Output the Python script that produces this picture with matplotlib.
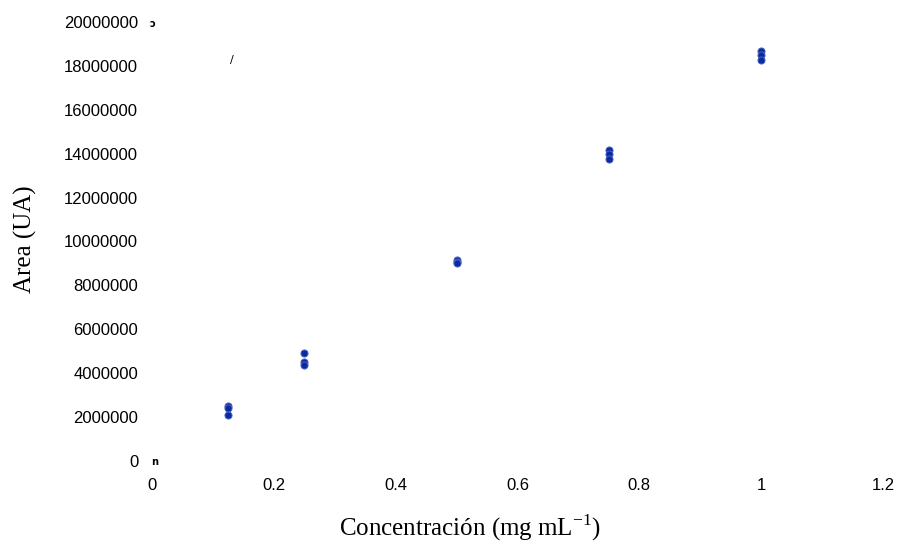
import matplotlib
matplotlib.use("Agg")
import matplotlib.pyplot as plt

# datos de calibración (concentración vs área)
conc = [0.125, 0.125, 0.125,
        0.25, 0.25, 0.25,
        0.5, 0.5, 0.5,
        0.75, 0.75, 0.75,
        1.0, 1.0, 1.0]
area = [2500000, 2430000, 2100000,
        4920000, 4520000, 4380000,
        9160000, 9080000, 9020000,
        14170000, 13990000, 13760000,
        18680000, 18500000, 18270000]

xticks = [0, 0.2, 0.4, 0.6, 0.8, 1, 1.2]
xticklabels = ["0", "0.2", "0.4", "0.6", "0.8", "1", "1.2"]
yticks = list(range(0, 20000001, 2000000))

plt.rcParams["mathtext.fontset"] = "custom"
plt.rcParams["mathtext.rm"] = "Liberation Serif"

fig = plt.figure(figsize=(9, 5.44), dpi=100)
ax = fig.add_axes([0.169, 0.1526, 0.812, 0.807])

ax.scatter(conc, area, s=26, color="#0b2a9c", edgecolors="#4a62c8", linewidths=0.7, zorder=3)

ax.set_xlim(0, 1.2)
ax.set_ylim(0, 20000000)
ax.set_xticks(xticks)
ax.set_xticklabels(xticklabels, fontfamily="Liberation Sans", fontsize=12)
ax.set_yticks(yticks)
ax.set_yticklabels([str(v) for v in yticks], fontfamily="Liberation Sans", fontsize=12)
ax.tick_params(axis="both", length=0)
ax.tick_params(axis="y", pad=10)
ax.tick_params(axis="x", pad=12)
for s in ax.spines.values():
    s.set_visible(False)

# etiquetas de ejes (Times)
fig.text(470 / 900, 1 - 528 / 544, r"Concentración (mg mL$^{\mathregular{-1}}$)",
         fontfamily="Liberation Serif", fontsize=18, ha="center", va="center")
fig.text(25 / 900, 1 - 239 / 544, "Area (UA)", fontfamily="Liberation Serif",
         fontsize=18, rotation=90, ha="center", va="center")

# restos de marcas pequeñas que aparecen en el original
fig.text(152 / 900, 1 - 24 / 544, "ɔ", fontsize=7, fontweight="bold", ha="center", va="center")
fig.text(232 / 900, 1 - 60 / 544, "/", fontsize=8, ha="center", va="center")
fig.text(155 / 900, 1 - 462 / 544, "n", fontsize=7, fontweight="bold", ha="center", va="center")

fig.savefig("out.png", dpi=100)
